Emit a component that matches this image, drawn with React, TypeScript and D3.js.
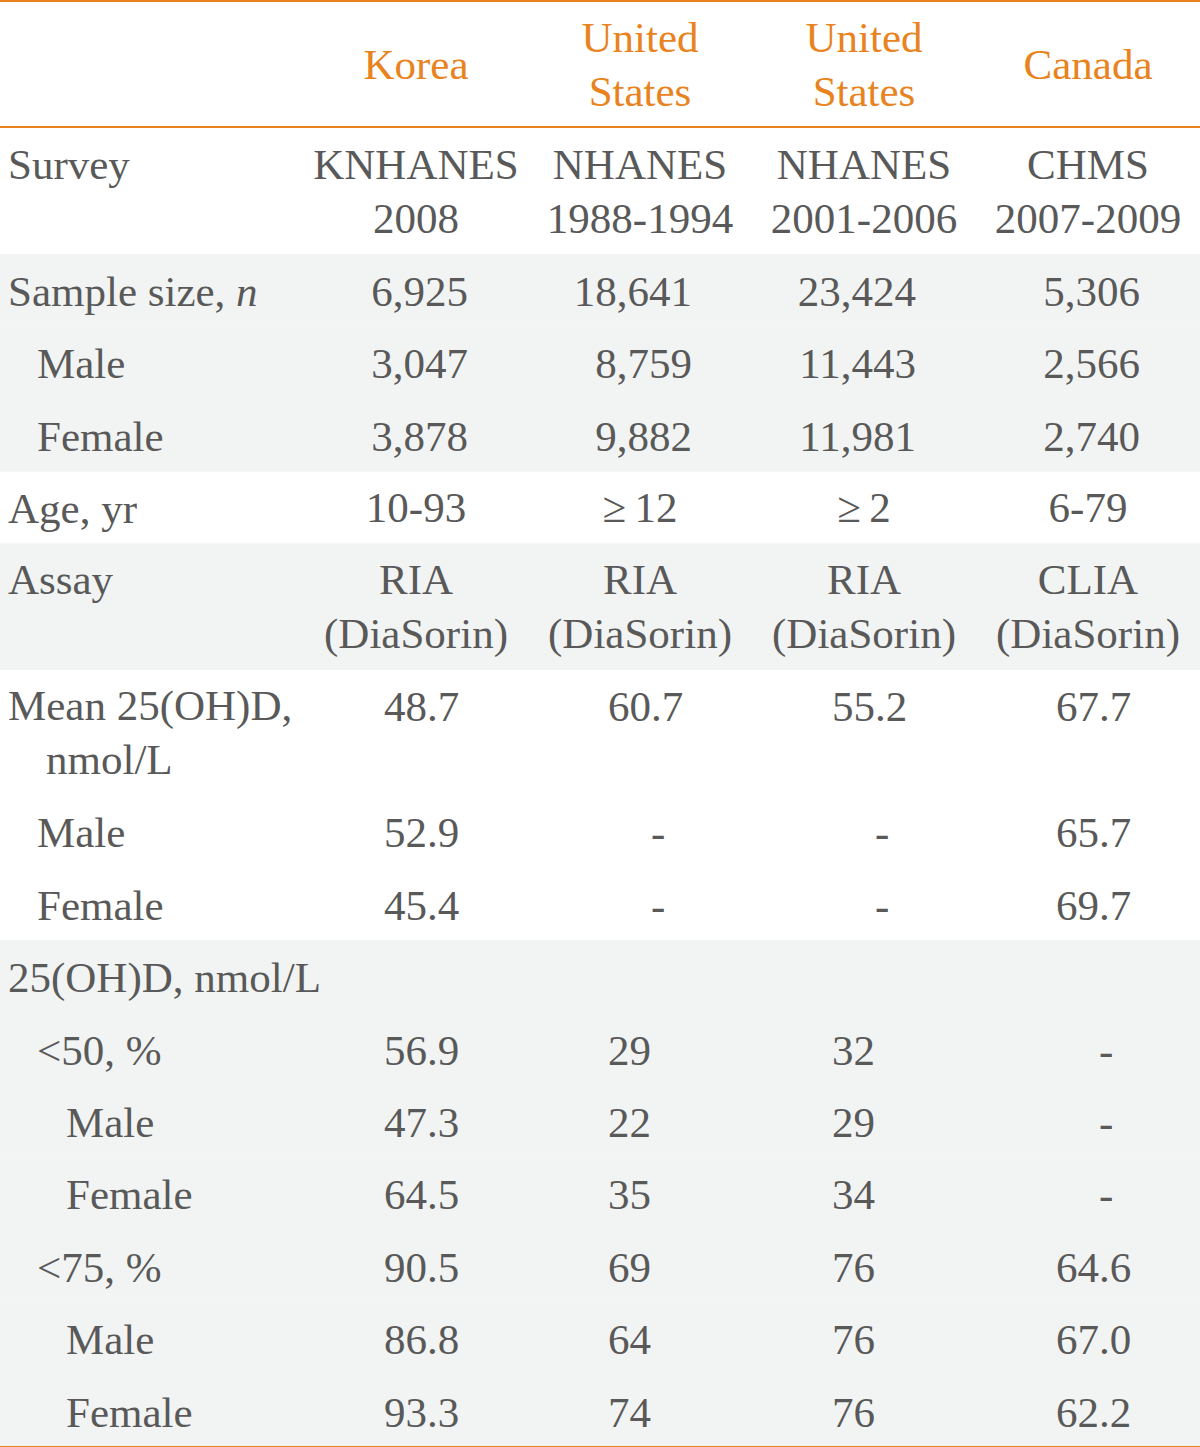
import React from "react";
import * as d3 from "d3";

// ---- data ----
const headerLines: string[][] = [["Korea"], ["United", "States"], ["United", "States"], ["Canada"]];
const surveys: string[][] = [["KNHANES", "2008"], ["NHANES", "1988-1994"], ["NHANES", "2001-2006"], ["CHMS", "2007-2009"]];
const sampleTotal = ["6,925", "18,641", "23,424", "5,306"];
const sampleMale = ["3,047", "8,759", "11,443", "2,566"];
const sampleFemale = ["3,878", "9,882", "11,981", "2,740"];
const ageRange = ["10-93", "\u2265\u200912", "\u2265\u20092", "6-79"];
const assayMethod: string[][] = [["RIA", "(DiaSorin)"], ["RIA", "(DiaSorin)"], ["RIA", "(DiaSorin)"], ["CLIA", "(DiaSorin)"]];
const meanAll = ["48.7", "60.7", "55.2", "67.7"];
const meanMale = ["52.9", "-", "-", "65.7"];
const meanFemale = ["45.4", "-", "-", "69.7"];
const below50All = ["56.9", "29", "32", "-"];
const below50Male = ["47.3", "22", "29", "-"];
const below50Female = ["64.5", "35", "34", "-"];
const below75All = ["90.5", "69", "76", "64.6"];
const below75Male = ["86.8", "64", "76", "67.0"];
const below75Female = ["93.3", "74", "76", "62.2"];

type Align = "center" | "right" | "decimal";
type Row = { label: string[]; italicTail?: string; indent: number; values: (string | string[])[]; align: Align; shade: boolean };

const rows: Row[] = [
  { label: ["Survey"], indent: 0, values: surveys, align: "center", shade: false },
  { label: ["Sample size, "], italicTail: "n", indent: 0, values: sampleTotal, align: "right", shade: true },
  { label: ["Male"], indent: 1, values: sampleMale, align: "right", shade: true },
  { label: ["Female"], indent: 1, values: sampleFemale, align: "right", shade: true },
  { label: ["Age, yr"], indent: 0, values: ageRange, align: "center", shade: false },
  { label: ["Assay"], indent: 0, values: assayMethod, align: "center", shade: true },
  { label: ["Mean 25(OH)D,", "nmol/L"], indent: 0, values: meanAll, align: "decimal", shade: false },
  { label: ["Male"], indent: 1, values: meanMale, align: "decimal", shade: false },
  { label: ["Female"], indent: 1, values: meanFemale, align: "decimal", shade: false },
  { label: ["25(OH)D, nmol/L"], indent: 0, values: [], align: "decimal", shade: true },
  { label: ["<50, %"], indent: 1, values: below50All, align: "decimal", shade: true },
  { label: ["Male"], indent: 2, values: below50Male, align: "decimal", shade: true },
  { label: ["Female"], indent: 2, values: below50Female, align: "decimal", shade: true },
  { label: ["<75, %"], indent: 1, values: below75All, align: "decimal", shade: true },
  { label: ["Male"], indent: 2, values: below75Male, align: "decimal", shade: true },
  { label: ["Female"], indent: 2, values: below75Female, align: "decimal", shade: true },
];

// ---- style ----
const W = 1200;
const H = 1447;
const FONT = "'Liberation Serif', 'Times New Roman', serif";
const FS = 43;
const TEXT = "#595959";
const ORANGE = "#E8831E";
const SHADE = "#F2F4F3";
const HEADER_H = 128;
const ROW_H = 72.4;
const LINE_H = 53.5;
const BASE = 52;

export default function App() {
  const x = d3.scaleBand<number>().domain(d3.range(4)).range([304, W]).paddingInner(0);
  const cx = (i: number) => (x(i) as number) + x.bandwidth() / 2;

  const nLines = rows.map((r) =>
    Math.max(r.label.length, ...r.values.map((v) => (Array.isArray(v) ? v.length : 1)), 1)
  );
  const heights = nLines.map((n) => ROW_H + (n - 1) * LINE_H);
  const tops = [HEADER_H, ...Array.from(d3.cumsum(heights)).map((s) => HEADER_H + s)];

  const renderCell = (v: string | string[], i: number, top: number, align: Align, key: string) => {
    const lines = Array.isArray(v) ? v : [v];
    const c = cx(i);
    if (align === "center" || Array.isArray(v)) {
      return lines.map((t, k) => (
        <text key={key + k} x={c} y={top + BASE - 1.5 + k * 54} textAnchor="middle">{t}</text>
      ));
    }
    const t = lines[0];
    const y = top + BASE;
    if (align === "right") {
      return <text key={key} x={c + 52} y={y} textAnchor="end">{t}</text>;
    }
    const anchor = c + 11;
    if (t === "-") {
      return <text key={key} x={anchor} y={y} textAnchor="start">{t}</text>;
    }
    const dot = t.indexOf(".");
    const intPart = dot >= 0 ? t.slice(0, dot) : t;
    const frac = dot >= 0 ? t.slice(dot) : "";
    return (
      <g key={key}>
        <text x={anchor} y={y} textAnchor="end">{intPart}</text>
        {frac && <text x={anchor} y={y} textAnchor="start">{frac}</text>}
      </g>
    );
  };

  return (
    <div style={{ position: "absolute", left: 0, top: 0 }}>
      <svg width={W} height={H} style={{ display: "block" }} fontFamily={FONT} fontSize={FS}>
        <rect x={0} y={0} width={W} height={H} fill="#fff" />
        {rows.map((r, ri) =>
          r.shade ? (
            <rect key={"bg" + ri} x={0} y={tops[ri]} width={W} height={heights[ri] + 0.6} fill={SHADE} />
          ) : null
        )}
        {/* header */}
        <g fill={ORANGE}>
          {headerLines.map((lines, i) =>
            lines.map((t, k) => (
              <text
                key={"h" + i + k}
                x={cx(i)}
                y={lines.length === 1 ? 79 : 52 + k * 54}
                textAnchor="middle"
              >
                {t}
              </text>
            ))
          )}
        </g>
        {/* body */}
        <g fill={TEXT}>
          {rows.map((r, ri) => {
            const top = tops[ri];
            const lx = 8 + r.indent * 29;
            const multi = nLines[ri] > 1;
            return (
              <g key={"r" + ri}>
                {r.label.map((t, k) => (
                  <text key={"l" + k} x={k === 0 ? lx : lx + 38} y={top + BASE - (multi ? 1.5 : 0) + k * 54}>
                    {t}
                    {k === 0 && r.italicTail ? <tspan fontStyle="italic">{r.italicTail}</tspan> : null}
                  </text>
                ))}
                {r.values.map((v, i) => renderCell(v, i, top, r.align, "c" + ri + "-" + i))}
              </g>
            );
          })}
        </g>
        {/* rules */}
        <line x1={0} x2={W} y1={1} y2={1} stroke={ORANGE} strokeWidth={2} />
        <line x1={0} x2={W} y1={127} y2={127} stroke={ORANGE} strokeWidth={2} />
        <line x1={0} x2={W} y1={tops[rows.length]} y2={tops[rows.length]} stroke={ORANGE} strokeWidth={2} />
      </svg>
    </div>
  );
}
